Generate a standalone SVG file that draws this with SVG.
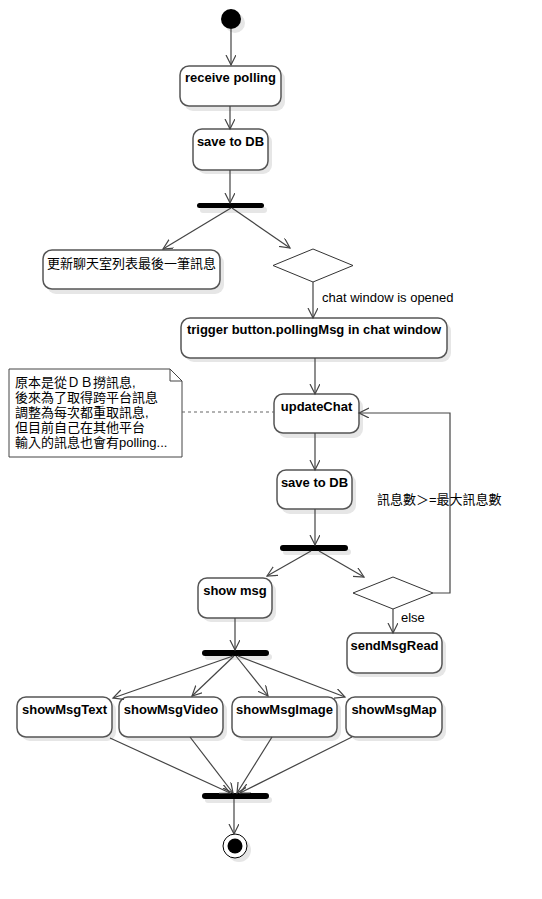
<svg xmlns="http://www.w3.org/2000/svg" width="542" height="899" viewBox="0 0 542 899">
<style>
.box{fill:#fff;stroke:#555;stroke-width:1.5}
.shadow{fill:#e6e6e6}
.lbl{font-family:"Liberation Sans",Arial,sans-serif;font-size:13px;font-weight:bold;fill:#000;text-anchor:middle}
.cjk{font-family:"Liberation Sans","Noto Sans CJK TC",sans-serif;font-size:13px;fill:#000}
.edge{font-family:"Liberation Sans","Noto Sans CJK TC",sans-serif;font-size:13px;fill:#000}
.bar{fill:#000}
.conn line,.conn polyline,.conn path{stroke:#444;stroke-width:1.2;fill:none}
.dia{fill:#fff;stroke:#333;stroke-width:1}
</style>
<defs>
<marker id="arr" markerWidth="12" markerHeight="12" refX="10" refY="5" orient="auto" markerUnits="userSpaceOnUse">
<path d="M0,0 L10,5 L0,10" fill="none" stroke="#444" stroke-width="1.2"/>
</marker>
</defs>
<rect width="542" height="899" fill="#fff"/>

<g id="start"><circle cx="235" cy="23" r="10" class="shadow"/><circle cx="231" cy="19" r="10" fill="#000"/></g>

<g id="receive"><rect x="184" y="70" width="101" height="41" rx="9" class="shadow"/><rect x="180" y="66" width="101" height="40" rx="9" class="box"/><text x="230.5" y="82" class="lbl">receive polling</text></g>

<g id="save1"><rect x="197" y="133" width="75" height="41" rx="9" class="shadow"/><rect x="193" y="129" width="75" height="41" rx="9" class="box"/><text x="230.5" y="146" class="lbl">save to DB</text></g>

<g id="fork1"><rect x="200" y="207" width="67" height="6" rx="3" class="shadow"/><rect x="197" y="203" width="67" height="5" rx="2.5" class="bar"/></g>

<g id="updateList"><rect x="47" y="254" width="177" height="40" rx="9" class="shadow"/><rect x="43" y="250" width="177" height="39" rx="9" class="box"/><text x="47" y="268" class="cjk">更新聊天室列表最後一筆訊息</text></g>

<g id="decision1"><polygon points="273,265.5 313,249 353,265.5 313,282" class="dia"/></g>

<g id="trigger"><rect x="185" y="322" width="266" height="40" rx="9" class="shadow"/><rect x="181" y="318" width="266" height="40" rx="9" class="box"/><text x="314" y="334" class="lbl">trigger button.pollingMsg in chat window</text></g>

<g id="note"><polygon points="9,369 170,369 182,381 182,457 9,457" fill="#fff" stroke="#444" stroke-width="1"/><polyline points="170,369 170,381 182,381" fill="none" stroke="#444" stroke-width="1"/>
<text class="cjk" font-size="13"><tspan x="15" y="387">原本是從ＤＢ撈訊息,</tspan><tspan x="15" y="402">後來為了取得跨平台訊息</tspan><tspan x="15" y="417">調整為每次都重取訊息,</tspan><tspan x="15" y="432">但目前自己在其他平台</tspan><tspan x="15" y="447">輸入的訊息也會有polling...</tspan></text></g>

<g id="updateChat"><rect x="278" y="398" width="85" height="40" rx="9" class="shadow"/><rect x="274" y="394" width="85" height="39" rx="9" class="box"/><text x="316.5" y="411" class="lbl">updateChat</text></g>

<g id="save2"><rect x="281" y="474" width="75" height="40" rx="9" class="shadow"/><rect x="277" y="470" width="75" height="39" rx="9" class="box"/><text x="314.5" y="487" class="lbl">save to DB</text></g>

<g id="fork2"><rect x="283" y="549" width="68" height="6" rx="3" class="shadow"/><rect x="280" y="545" width="68" height="6" rx="3" class="bar"/></g>

<g id="showMsg"><rect x="202" y="582" width="74" height="40" rx="9" class="shadow"/><rect x="198" y="578" width="74" height="40" rx="9" class="box"/><text x="235" y="595" class="lbl">show msg</text></g>

<g id="decision2"><polygon points="353,593 393,577 433,593 393,609" class="dia"/></g>

<g id="sendMsgRead"><rect x="351" y="637" width="95" height="40" rx="9" class="shadow"/><rect x="347" y="633" width="95" height="40" rx="9" class="box"/><text x="394.5" y="650" class="lbl">sendMsgRead</text></g>

<g id="fork3"><rect x="205" y="654" width="67" height="6" rx="3" class="shadow"/><rect x="202" y="650" width="67" height="6" rx="3" class="bar"/></g>

<g id="showMsgText"><rect x="21" y="701" width="95" height="40" rx="9" class="shadow"/><rect x="17" y="697" width="95" height="40" rx="9" class="box"/><text x="64.5" y="714" class="lbl">showMsgText</text></g>
<g id="showMsgVideo"><rect x="123" y="701" width="104" height="40" rx="9" class="shadow"/><rect x="119" y="697" width="104" height="40" rx="9" class="box"/><text x="171" y="714" class="lbl">showMsgVideo</text></g>
<g id="showMsgImage"><rect x="236" y="701" width="105" height="40" rx="9" class="shadow"/><rect x="232" y="697" width="105" height="40" rx="9" class="box"/><text x="284.5" y="714" class="lbl">showMsgImage</text></g>
<g id="showMsgMap"><rect x="350" y="701" width="96" height="40" rx="9" class="shadow"/><rect x="346" y="697" width="96" height="40" rx="9" class="box"/><text x="394" y="714" class="lbl">showMsgMap</text></g>

<g id="join"><rect x="205" y="797" width="67" height="6" rx="3" class="shadow"/><rect x="202" y="793" width="67" height="6" rx="3" class="bar"/></g>

<g id="end"><circle cx="239" cy="850" r="12" class="shadow"/><circle cx="235" cy="846" r="12" fill="#fff" stroke="#000" stroke-width="1"/><circle cx="235" cy="846" r="7.5" fill="#000"/></g>

<g id="connectors" class="conn">
<line x1="231" y1="29" x2="231" y2="65" marker-end="url(#arr)"/>
<line x1="230" y1="106" x2="230" y2="129" marker-end="url(#arr)"/>
<line x1="230" y1="170" x2="230" y2="203" marker-end="url(#arr)"/>
<line x1="231" y1="208" x2="163" y2="249" marker-end="url(#arr)"/>
<line x1="232" y1="208" x2="290" y2="248" marker-end="url(#arr)"/>
<line x1="313" y1="282" x2="313" y2="318" marker-end="url(#arr)"/>
<line x1="315" y1="358" x2="315" y2="394" marker-end="url(#arr)"/>
<line x1="315" y1="433" x2="315" y2="470" marker-end="url(#arr)"/>
<line x1="315" y1="509" x2="315" y2="545" marker-end="url(#arr)"/>
<line x1="311" y1="551" x2="267" y2="576" marker-end="url(#arr)"/>
<line x1="319" y1="551" x2="364" y2="577" marker-end="url(#arr)"/>
<line x1="393" y1="609" x2="393" y2="633" marker-end="url(#arr)"/>
<polyline points="433,593 450,593 450,413 359,413" marker-end="url(#arr)"/>
<line x1="182" y1="412" x2="274" y2="412" stroke-dasharray="3,3" style="stroke:#666"/>
<line x1="235" y1="618" x2="235" y2="650" marker-end="url(#arr)"/>
<line x1="233" y1="656" x2="113" y2="698" marker-end="url(#arr)"/>
<line x1="234" y1="656" x2="192" y2="696" marker-end="url(#arr)"/>
<line x1="236" y1="656" x2="268" y2="696" marker-end="url(#arr)"/>
<line x1="238" y1="656" x2="345" y2="697" marker-end="url(#arr)"/>
<line x1="110" y1="738" x2="230" y2="793" marker-end="url(#arr)"/>
<line x1="190" y1="737" x2="233" y2="793" marker-end="url(#arr)"/>
<line x1="272" y1="737" x2="237" y2="793" marker-end="url(#arr)"/>
<line x1="352" y1="737" x2="240" y2="793" marker-end="url(#arr)"/>
<line x1="234" y1="799" x2="234" y2="834" marker-end="url(#arr)"/>
</g>
<g id="edge-labels">
<text x="322" y="302" class="edge">chat window is opened</text>
<text x="377" y="504" class="edge">訊息數＞=最大訊息數</text>
<text x="401" y="622" class="edge">else</text>
</g>
</svg>
